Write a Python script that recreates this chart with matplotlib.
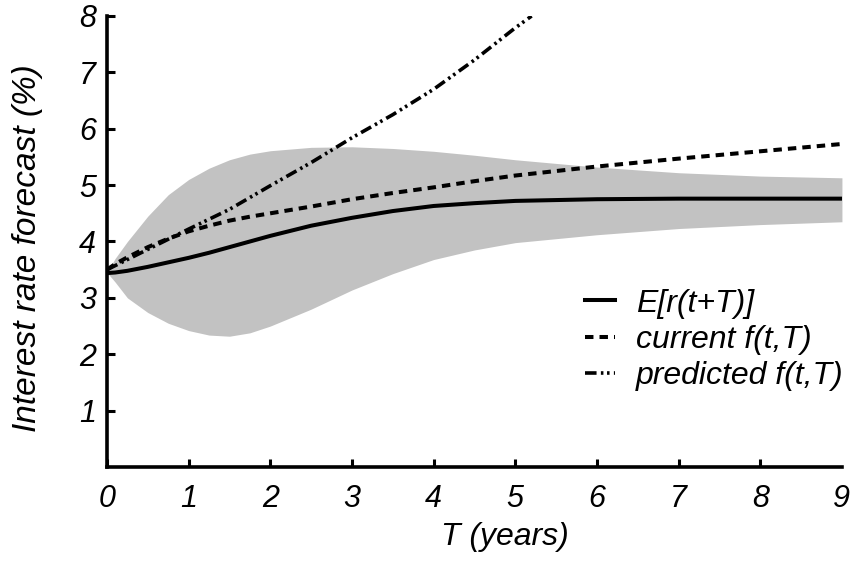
import matplotlib.pyplot as plt

plt.rcParams['font.family'] = ['Liberation Sans', 'DejaVu Sans']
plt.rcParams['font.style'] = 'italic'

# maturity grid (years)
T = [0, 0.1, 0.25, 0.5, 0.75, 1, 1.25, 1.5, 1.75, 2, 2.5, 3, 3.5, 4, 4.5, 5, 6, 7, 8, 9]
expected = [3.44, 3.45, 3.48, 3.55, 3.63, 3.71, 3.8, 3.9, 4.0, 4.1, 4.28, 4.42, 4.54, 4.63,
            4.68, 4.72, 4.75, 4.76, 4.76, 4.76]
band_hi = [3.45, 3.7, 4.0, 4.45, 4.83, 5.1, 5.3, 5.45, 5.55, 5.61, 5.67, 5.68, 5.65, 5.6,
           5.53, 5.45, 5.32, 5.22, 5.16, 5.13]
band_lo = [3.45, 3.28, 3.0, 2.74, 2.55, 2.42, 2.34, 2.32, 2.38, 2.5, 2.8, 3.14, 3.43, 3.68,
           3.85, 3.98, 4.12, 4.23, 4.3, 4.35]
current = [3.5, 3.6, 3.72, 3.9, 4.05, 4.18, 4.28, 4.37, 4.44, 4.5, 4.62, 4.75, 4.86, 4.96,
           5.07, 5.17, 5.33, 5.47, 5.6, 5.73]

T_pred = [0, 0.5, 1, 1.5, 2, 2.5, 3, 3.5, 4, 4.5, 5, 5.2]
predicted = [3.5, 3.86, 4.22, 4.57, 4.99, 5.4, 5.84, 6.25, 6.7, 7.22, 7.79, 8.0]

fig = plt.figure(figsize=(8.6, 5.63), dpi=100)
ax = fig.add_axes([0.1244, 0.1705, 0.8546, 0.8011])

ax.fill_between(T, band_lo, band_hi, color='#c2c2c2', linewidth=0)
ax.plot(T, expected, color='black', lw=2.9, label='E[r(t+T)]')
ax.plot(T, current, color='black', lw=2.9, dashes=(2.1, 1.5), label='current f(t,T)')
ax.plot(T_pred, predicted, color='black', lw=2.6,
        dashes=(3.2, 1.2, 0.7, 1.0, 0.7, 1.2), label='predicted f(t,T)')

ax.set_xlim(0, 9)
ax.set_ylim(0, 8)
ax.set_xticks(range(10))
ax.set_yticks(range(1, 9))
ax.tick_params(axis='both', direction='in', length=6, width=2.2, labelsize=22)
ax.tick_params(axis='x', pad=12)
ax.tick_params(axis='y', pad=8)
ax.xaxis.get_major_ticks()[-1].tick1line.set_visible(False)

for s in ['top', 'right']:
    ax.spines[s].set_visible(False)
for s in ['left', 'bottom']:
    ax.spines[s].set_linewidth(2.6)

ax.set_xlabel('T (years)', fontsize=23)
ax.set_ylabel('Interest rate forecast (%)', fontsize=24)
ax.xaxis.set_label_coords(0.541, -0.122)
ax.yaxis.set_label_coords(-0.087, 0.486)

ax.legend(loc='upper left', bbox_to_anchor=(0.665, 0.51), bbox_transform=fig.transFigure,
          frameon=False, fontsize=23, handlelength=0.95, handletextpad=0.65,
          labelspacing=0.2, borderaxespad=0)

fig.savefig('out.png', dpi=100)
